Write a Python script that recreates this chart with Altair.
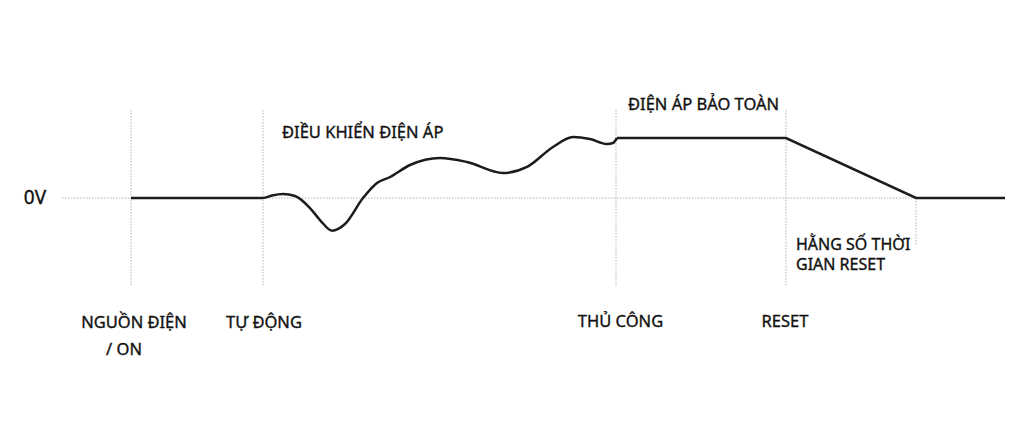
import altair as alt
import pandas as pd

# Signal curve (time units, voltage units; 0 V baseline)
curve_t = [0, 132, 141, 152, 164, 179, 189, 201, 214, 232, 246, 259, 279, 309, 336, 372, 396, 422, 442, 459, 476, 482, 486]
curve_v = [0, 0, 0.042, 0.067, 0.033, -0.167, -0.367, -0.545, -0.433, 0, 0.25, 0.35, 0.55, 0.667, 0.6, 0.417, 0.517, 0.85, 1.017, 0.983, 0.9, 0.917, 1.0]
hold_t = [486, 655, 785, 874]
hold_v = [1.0, 1.0, 0.0, 0.0]

# Event markers
event_t = [0, 132, 485, 655, 785]
event_top = [1.467, 1.467, 1.467, 1.467, 0.0]
event_bottom = [-1.483, -1.483, -1.483, -1.483, -0.783]

# Baseline
base_t = [-69]
base_t2 = [874]
base_v = [0]

# Labels
label_text = ["0V", "ĐIỀU KHIỂN ĐIỆN ÁP", "ĐIỆN ÁP BẢO TOÀN", "HẰNG SỐ THỜI\nGIAN RESET",
              "NGUỒN ĐIỆN", "/  ON", "TỰ ĐỘNG", "THỦ CÔNG", "RESET"]
label_t = [-96, 151, 497, 665, 3, -7, 133, 489.5, 654]
label_v = [0, 1.083, 1.55, -0.775, -2.083, -2.533, -2.083, -2.067, -2.067]
label_align = ["center", "left", "left", "left", "center", "center", "center", "center", "center"]
label_size = [19, 16.5, 16.5, 16, 16.5, 16.5, 16.5, 16.5, 16.5]

xs = alt.Scale(domain=[-123, 886], nice=False, zero=False)
ys = alt.Scale(domain=[-3.9, 3.1667], nice=False, zero=False)

dot_color = "#aab6be"

base_df = pd.DataFrame({"t": base_t, "t2": base_t2, "v": base_v})
base = alt.Chart(base_df).mark_rule(color=dot_color, strokeWidth=1, strokeDash=[1.5, 1.5]).encode(
    x=alt.X("t:Q", scale=xs, axis=None), x2="t2:Q", y=alt.Y("v:Q", scale=ys, axis=None))

ev_df = pd.DataFrame({"t": event_t, "top": event_top, "bottom": event_bottom})
events = alt.Chart(ev_df).mark_rule(color=dot_color, strokeWidth=1, strokeDash=[1.5, 1.5]).encode(
    x=alt.X("t:Q", scale=xs, axis=None), y=alt.Y("top:Q", scale=ys, axis=None), y2="bottom:Q")

curve_df = pd.DataFrame({"t": curve_t, "v": curve_v})
curve = alt.Chart(curve_df).mark_line(color="#1c1c1c", strokeWidth=2.5, interpolate="monotone").encode(
    x=alt.X("t:Q", scale=xs, axis=None), y=alt.Y("v:Q", scale=ys, axis=None))

hold_df = pd.DataFrame({"t": hold_t, "v": hold_v})
hold = alt.Chart(hold_df).mark_line(color="#1c1c1c", strokeWidth=2.5, interpolate="linear").encode(
    x=alt.X("t:Q", scale=xs, axis=None), y=alt.Y("v:Q", scale=ys, axis=None))

texts = []
for txt, t, v, al, sz in zip(label_text, label_t, label_v, label_align, label_size):
    df = pd.DataFrame({"t": [t], "v": [v], "label": [txt]})
    texts.append(alt.Chart(df).mark_text(align=al, baseline="middle", fontSize=sz,
                                         font="Noto Sans", color="#111111",
                                         stroke="#111111", strokeWidth=0.35,
                                         lineBreak="\n", lineHeight=20.5).encode(
        x=alt.X("t:Q", scale=xs, axis=None), y=alt.Y("v:Q", scale=ys, axis=None), text="label:N"))

chart = alt.layer(base, events, curve, hold, *texts).properties(
    width=1009, height=424, autosize=alt.AutoSizeParams(type="none"), padding=0,
    background="white"
).configure_view(stroke=None)

chart.save("out.html", embed_options={"renderer": "svg", "actions": False})
